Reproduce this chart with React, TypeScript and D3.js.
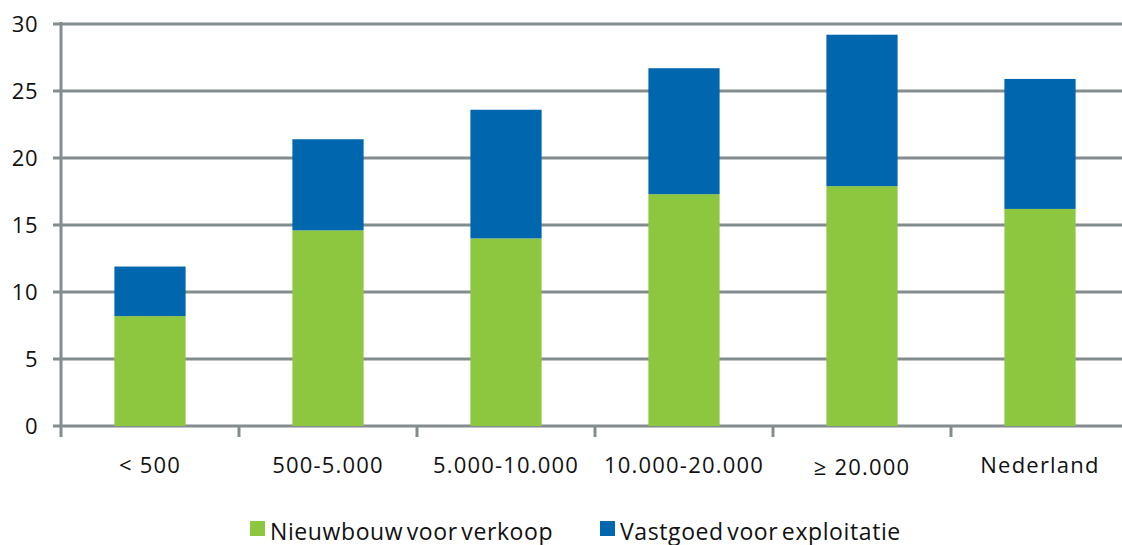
import React from "react";
import * as d3 from "d3";

const categories = ["< 500", "500-5.000", "5.000-10.000", "10.000-20.000", "≥ 20.000", "Nederland"];
const nieuwbouw = [8.2, 14.6, 14.0, 17.3, 17.9, 16.2];
const vastgoed = [3.7, 6.8, 9.6, 9.4, 11.3, 9.7];
const yTicks = [0, 5, 10, 15, 20, 25, 30];
const seriesNames = ["Nieuwbouw voor verkoop", "Vastgoed voor exploitatie"];
const colors = ["#8dc63f", "#0066ad"];

export default function App() {
  const W = 1122, H = 545;
  const x0 = 61, step = 178;
  const x = d3.scaleBand<string>().domain(categories).range([x0, x0 + step * categories.length]).paddingInner(0.6).paddingOuter(0.3);
  const y = d3.scaleLinear().domain([0, 30]).range([426, 24]);
  const grid = "#838c8e";
  const font = "'Open Sans', sans-serif";
  const stacked = d3.stack<any>().keys(["a", "b"])(categories.map((c, i) => ({ c, a: nieuwbouw[i], b: vastgoed[i] })));
  return (
    <svg width={W} height={H} style={{ position: "absolute", left: 0, top: 0 }} fontFamily={font}>
      {yTicks.map((t) => (
        <g key={t}>
          <line x1={53} x2={W} y1={y(t)} y2={y(t)} stroke={grid} strokeWidth={3} />
          <text x={38} y={y(t)} dy="0.36em" textAnchor="end" fontSize={22} letterSpacing={0.5} fill="#111">{t}</text>
        </g>
      ))}
      <line x1={x0} x2={x0} y1={y(30) - 2} y2={437} stroke={grid} strokeWidth={3} />
      {categories.map((c, i) => (
        <line key={c} x1={x0 + step * (i + 1)} x2={x0 + step * (i + 1)} y1={426} y2={437} stroke={grid} strokeWidth={3} />
      ))}
      {stacked.map((s, si) => (
        <g key={si} fill={colors[si]}>
          {s.map((d, i) => (
            <rect key={i} x={x(categories[i])!} width={x.bandwidth()} y={y(d[1])} height={y(d[0]) - y(d[1])} />
          ))}
        </g>
      ))}
      {categories.map((c) => (
        <text key={c} x={x(c)! + x.bandwidth() / 2} y={c.startsWith("≥") ? 475 : 473} textAnchor="middle" fontSize={22} letterSpacing={1.2} fill="#111">{c}</text>
      ))}
      {seriesNames.map((n, i) => {
        const lx = i === 0 ? 250 : 600;
        return (
          <g key={n}>
            <rect x={lx} y={521} width={15} height={15} fill={colors[i]} />
            <text x={lx + 20} y={540} fontSize={23} letterSpacing={0.6} wordSpacing={-3} fill="#111">{n}</text>
          </g>
        );
      })}
    </svg>
  );
}
